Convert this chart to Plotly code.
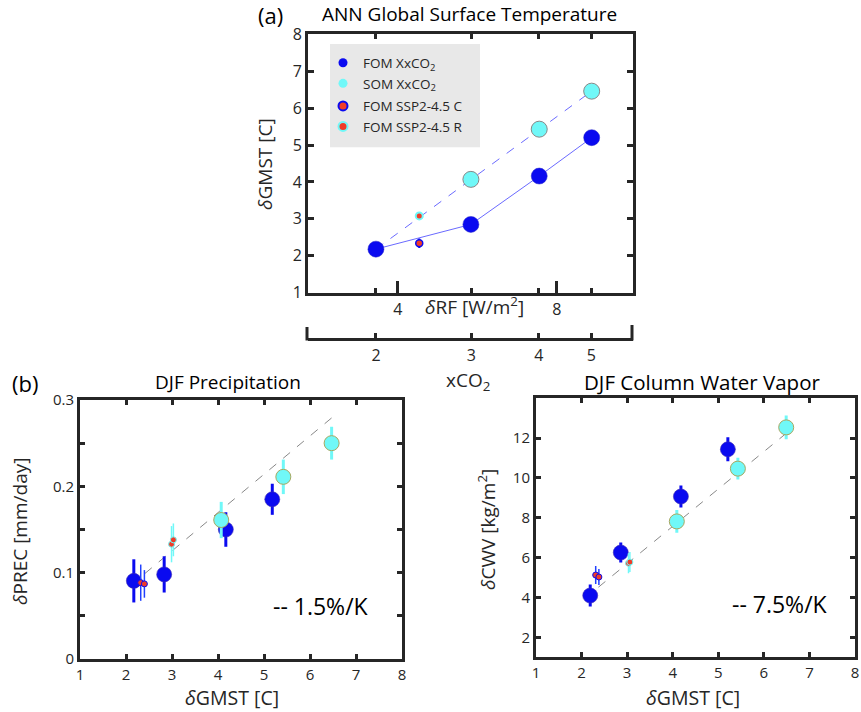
import plotly.graph_objects as go

# ---------------- data ----------------
# Panel (a): ANN global surface temperature vs radiative forcing
xco2_levels = [2, 3, 4, 5]
rf_fom = [3.45, 5.84, 7.56, 8.88]
gmst_fom = [2.18, 2.85, 4.16, 5.20]
rf_som_line = [3.45, 5.84, 7.56, 8.88]
gmst_som_line = [2.18, 4.07, 5.43, 6.46]
rf_som = [5.84, 7.56, 8.88]
gmst_som = [4.07, 5.43, 6.46]
rf_ssp = [4.54]
gmst_ssp_c = [2.34]
gmst_ssp_c_err = [0.13]
gmst_ssp_r = [3.08]
gmst_ssp_r_err = [0.10]
rf_ticks = [4, 8]
xco2_axis_range_log10 = [0.1754, 0.7760]
rf_axis_range = [1.74, 9.92]

# Panel (b) left: DJF precipitation
pr_fom_x = [2.17, 2.83, 4.17, 5.18]
pr_fom_y = [0.0905, 0.098, 0.150, 0.185]
pr_fom_e = [0.025, 0.021, 0.020, 0.018]
pr_som_x = [4.07, 5.42, 6.47]
pr_som_y = [0.161, 0.211, 0.250]
pr_som_e = [0.021, 0.020, 0.019]
pr_sspc_x = [2.32, 2.40]
pr_sspc_y = [0.0884, 0.0870]
pr_sspc_e = [0.021, 0.016]
pr_sspr_x = [2.99, 3.03]
pr_sspr_y = [0.133, 0.138]
pr_sspr_e = [0.021, 0.019]
pr_fit_x = [2.41, 6.51]
pr_fit_y = [0.099, 0.281]

# Panel (b) right: DJF column water vapor
cw_fom_x = [2.19, 2.86, 4.18, 5.21]
cw_fom_y = [4.10, 6.26, 9.07, 11.44]
cw_fom_e = [0.55, 0.50, 0.55, 0.60]
cw_som_x = [4.09, 5.43, 6.49]
cw_som_y = [7.82, 10.47, 12.54]
cw_som_e = [0.57, 0.55, 0.60]
cw_sspc_x = [2.31, 2.38]
cw_sspc_y = [5.13, 5.03]
cw_sspc_e = [0.45, 0.40]
cw_sspr_x = [3.03, 3.06]
cw_sspr_y = [5.72, 5.78]
cw_sspr_e = [0.50, 0.50]
cw_fit_x = [2.37, 6.49]
cw_fit_y = [4.52, 12.24]

# ---------------- style ----------------
W, H = 861, 712
FONT = "'Open Sans', 'Noto Sans', sans-serif"
DARK = "#262626"
BLUE = "#0a0af0"
CYAN = "#70f8f8"
RED = "#f03c28"
LINEBLUE = "#6a6aff"


def px_x(p):
    return p / W


def px_y(p):
    return 1 - p / H


fig = go.Figure()

# ---- panel (a) ----
fig.add_trace(go.Scatter(x=rf_som_line, y=gmst_som_line, mode="lines",
                         line=dict(color=LINEBLUE, width=1, dash="dash"),
                         showlegend=False, hoverinfo="skip", xaxis="x", yaxis="y"))
fig.add_trace(go.Scatter(x=rf_fom, y=gmst_fom, mode="lines",
                         line=dict(color=LINEBLUE, width=1),
                         showlegend=False, hoverinfo="skip", xaxis="x", yaxis="y"))
fig.add_trace(go.Scatter(x=rf_fom, y=gmst_fom, mode="markers",
                         marker=dict(size=16, color=BLUE, line=dict(color="#2020c8", width=0.5)),
                         showlegend=False, xaxis="x", yaxis="y"))
fig.add_trace(go.Scatter(x=rf_som, y=gmst_som, mode="markers",
                         marker=dict(size=16, color=CYAN, line=dict(color="#888888", width=1)),
                         showlegend=False, xaxis="x", yaxis="y"))
fig.add_trace(go.Scatter(x=rf_ssp, y=gmst_ssp_c, mode="markers",
                         error_y=dict(type="data", array=gmst_ssp_c_err, color=BLUE, thickness=2, width=0),
                         marker=dict(size=7, color=RED, line=dict(color=BLUE, width=1.5)),
                         showlegend=False, xaxis="x", yaxis="y"))
fig.add_trace(go.Scatter(x=rf_ssp, y=gmst_ssp_r, mode="markers",
                         error_y=dict(type="data", array=gmst_ssp_r_err, color=CYAN, thickness=2, width=0),
                         marker=dict(size=7, color=RED, line=dict(color=CYAN, width=2)),
                         showlegend=False, xaxis="x", yaxis="y"))
# invisible traces that carry the xCO2 axes
fig.add_trace(go.Scatter(x=xco2_levels, y=gmst_fom, mode="markers", marker=dict(opacity=0),
                         showlegend=False, hoverinfo="skip", xaxis="x4", yaxis="y"))
fig.add_trace(go.Scatter(x=xco2_levels, y=gmst_fom, mode="markers", marker=dict(opacity=0),
                         showlegend=False, hoverinfo="skip", xaxis="x5", yaxis="y"))

# legend entries
fig.add_trace(go.Scatter(x=[None], y=[None], mode="markers", name="FOM XxCO<sub>2</sub>",
                         legendgroup="g1", marker=dict(size=9, color=BLUE), xaxis="x", yaxis="y"))
fig.add_trace(go.Scatter(x=[None], y=[None], mode="markers", name="SOM XxCO<sub>2</sub>",
                         legendgroup="g1", marker=dict(size=9, color=CYAN), xaxis="x", yaxis="y"))
fig.add_trace(go.Scatter(x=[None], y=[None], mode="markers", name="FOM SSP2-4.5 C",
                         legendgroup="g2", marker=dict(size=9, color=RED, line=dict(color=BLUE, width=2)),
                         xaxis="x", yaxis="y"))
fig.add_trace(go.Scatter(x=[None], y=[None], mode="markers", name="FOM SSP2-4.5 R",
                         legendgroup="g2", marker=dict(size=9, color=RED, line=dict(color=CYAN, width=2)),
                         xaxis="x", yaxis="y"))


def add_panel_b(xa, ya, fx, fy, fe, sx, sy, se, cx, cy, ce, rx, ry, re, lx, ly):
    fig.add_trace(go.Scatter(x=lx, y=ly, mode="lines", line=dict(color="#888888", width=1, dash="dash"),
                             showlegend=False, hoverinfo="skip", xaxis=xa, yaxis=ya))
    fig.add_trace(go.Scatter(x=fx, y=fy, mode="markers",
                             error_y=dict(type="data", array=fe, color=BLUE, thickness=3, width=0),
                             marker=dict(size=15, color=BLUE, line=dict(color="#3a2ab0", width=0.6)),
                             showlegend=False, xaxis=xa, yaxis=ya))
    fig.add_trace(go.Scatter(x=sx, y=sy, mode="markers",
                             error_y=dict(type="data", array=se, color=CYAN, thickness=3, width=0),
                             marker=dict(size=15, color=CYAN, line=dict(color="#a8a860", width=1)),
                             showlegend=False, xaxis=xa, yaxis=ya))
    fig.add_trace(go.Scatter(x=cx, y=cy, mode="markers",
                             error_y=dict(type="data", array=ce, color="#2040ff", thickness=1.5, width=0),
                             marker=dict(size=6, color=RED, line=dict(color=BLUE, width=1)),
                             showlegend=False, xaxis=xa, yaxis=ya))
    fig.add_trace(go.Scatter(x=rx, y=ry, mode="markers",
                             error_y=dict(type="data", array=re, color=CYAN, thickness=1.5, width=0),
                             marker=dict(size=6, color=RED, line=dict(color=CYAN, width=1)),
                             showlegend=False, xaxis=xa, yaxis=ya))


add_panel_b("x2", "y2", pr_fom_x, pr_fom_y, pr_fom_e, pr_som_x, pr_som_y, pr_som_e,
            pr_sspc_x, pr_sspc_y, pr_sspc_e, pr_sspr_x, pr_sspr_y, pr_sspr_e, pr_fit_x, pr_fit_y)
add_panel_b("x3", "y3", cw_fom_x, cw_fom_y, cw_fom_e, cw_som_x, cw_som_y, cw_som_e,
            cw_sspc_x, cw_sspc_y, cw_sspc_e, cw_sspr_x, cw_sspr_y, cw_sspr_e, cw_fit_x, cw_fit_y)

frame = dict(showline=True, linewidth=3, linecolor=DARK, ticks="inside", tickwidth=2.5,
             tickcolor=DARK, showgrid=False, zeroline=False, automargin=False,
             tickfont=dict(family=FONT, size=15, color=DARK))

dom_a_x = [px_x(308), px_x(633)]
dom_a_y = [px_y(292.7), px_y(34.3)]
dom_bl_x = [px_x(80), px_x(402)]
dom_bl_y = [px_y(659), px_y(400)]
dom_br_x = [px_x(536), px_x(855)]
dom_br_y = [px_y(657.3), px_y(398.3)]

TF = dict(family=FONT, size=16, color=DARK)

fig.update_layout(
    width=W, height=H, margin=dict(l=0, r=0, t=0, b=0, autoexpand=False),
    paper_bgcolor="white", plot_bgcolor="white",
    font=dict(family=FONT, color=DARK),
    showlegend=True,
    legend=dict(x=px_x(323), y=px_y(47.5), xanchor="left", yanchor="top",
                bgcolor="rgba(0,0,0,0)", font=dict(family=FONT, size=13.5, color=DARK),
                tracegroupgap=2, itemclick=False),
    xaxis=dict(frame, domain=dom_a_x, anchor="y", range=rf_axis_range, tickvals=rf_ticks,
               ticklen=12, mirror=False, tickfont=TF),
    yaxis=dict(frame, domain=dom_a_y, anchor="x", range=[1, 8], dtick=1, ticklen=6, mirror="ticks",
               tickfont=TF),
    xaxis4=dict(frame, type="log", overlaying="x", anchor="free", position=px_y(339.3), domain=dom_a_x,
                range=xco2_axis_range_log10, tickvals=xco2_levels, ticktext=[str(v) for v in xco2_levels],
                ticklen=5, tickfont=TF),
    xaxis5=dict(frame, type="log", overlaying="x", anchor="y", side="top", domain=dom_a_x,
                range=xco2_axis_range_log10, tickvals=xco2_levels, showticklabels=False,
                ticklen=5, mirror="ticks"),
    xaxis2=dict(frame, domain=dom_bl_x, anchor="y2", range=[1, 8], dtick=1, ticklen=5, mirror="ticks"),
    yaxis2=dict(frame, domain=dom_bl_y, anchor="x2", range=[0, 0.3], dtick=0.1, ticklen=5, mirror="ticks",
                minor=dict(dtick=0.05, ticks="inside", ticklen=5, tickwidth=2.5, tickcolor=DARK, showgrid=False)),
    xaxis3=dict(frame, domain=dom_br_x, anchor="y3", range=[1, 8], dtick=1, ticklen=5, mirror="ticks"),
    yaxis3=dict(frame, domain=dom_br_y, anchor="x3", range=[1, 14], tickvals=[2, 4, 6, 8, 10, 12],
                ticklen=5, mirror="ticks"),
)

# legend box and xCO2 axis end caps
fig.add_shape(type="rect", xref="paper", yref="paper", x0=px_x(330), x1=px_x(480),
              y0=px_y(147.3), y1=px_y(44), fillcolor="#e8e8e8", line=dict(width=0), layer="below")
for xe, ytop in [(307, 327), (632, 325)]:
    fig.add_shape(type="line", xref="paper", yref="paper", x0=px_x(xe), x1=px_x(xe),
                  y0=px_y(340.5), y1=px_y(ytop), line=dict(color=DARK, width=3))


def ann(text, xp, yp, size, angle=0, color="black"):
    fig.add_annotation(text=text, x=px_x(xp), y=px_y(yp), xref="paper", yref="paper",
                       showarrow=False, xanchor="center", yanchor="middle", textangle=angle,
                       font=dict(family=FONT, size=size, color=color))


# panel labels and titles
ann("(a)", 270, 15, 22)
ann("ANN Global Surface Temperature", 470, 14, 19)
ann("(b)", 25, 383, 22)
ann("DJF Precipitation", 228, 382, 19)
ann("DJF Column Water Vapor", 702, 382, 20.5)
ann("-- 1.5%/K", 321, 606, 23)
ann("-- 7.5%/K", 780, 604, 23)
# axis titles
ann("<i>δ</i>GMST [C]", 265, 164, 19, angle=-90, color=DARK)
ann("<i>δ</i>RF [W/m<sup>2</sup>]", 474, 306, 19, color=DARK)
ann("xCO<sub>2</sub>", 468, 381, 19, color=DARK)
ann("<i>δ</i>PREC [mm/day]", 20, 532, 19, angle=-90, color=DARK)
ann("<i>δ</i>GMST [C]", 232, 697, 19.5, color=DARK)
ann("<i>δ</i>CWV [kg/m<sup>2</sup>]", 487, 530, 19, angle=-90, color=DARK)
ann("<i>δ</i>GMST [C]", 693, 697, 19.5, color=DARK)

fig.write_html("out.html", config={"displayModeBar": False},
               post_script="document.body.style.margin='0px';document.body.style.overflow='hidden';")
